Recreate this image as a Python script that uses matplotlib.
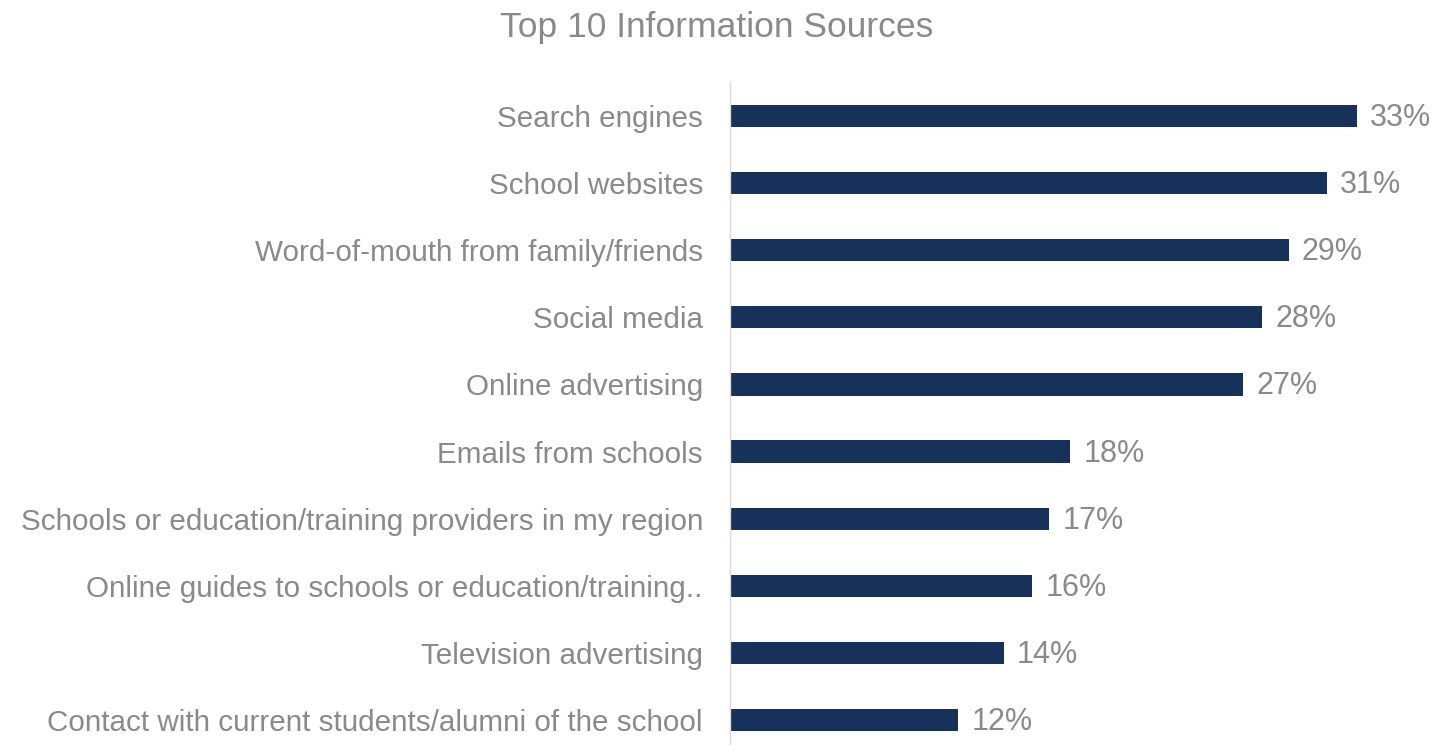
import matplotlib.pyplot as plt
import numpy as np

plt.rcParams['font.family'] = ['Liberation Sans', 'DejaVu Sans']

sources = ['Search engines', 'School websites', 'Word-of-mouth from family/friends',
           'Social media', 'Online advertising', 'Emails from schools',
           'Schools or education/training providers in my region',
           'Online guides to schools or education/training..',
           'Television advertising',
           'Contact with current students/alumni of the school']
shares = [33.0, 31.4, 29.4, 28.0, 27.0, 17.9, 16.8, 15.9, 14.4, 12.0]

navy = '#17325a'
grey = '#8a8a8a'

fig = plt.figure(figsize=(14.35, 7.45), dpi=100)
# axes placed in figure pixels: left edge at the bar baseline
W, H = 1435, 745
left, right, top, bottom = 730, 1400, 82.5, 753.5
ax = fig.add_axes([left / W, (H - bottom) / H, (right - left) / W, (bottom - top) / H])

pos = np.arange(len(sources))
bars = ax.barh(pos, shares, height=0.33, color=navy)
ax.set_ylim(len(sources) - 0.5, -0.5)
ax.set_xlim(0, (right - left) / 19.0)

for b, v in zip(bars, shares):
    ax.text(v + 0.7, b.get_y() + b.get_height() / 2 + 0.03, f'{v:.0f}%',
            va='center', ha='left', fontsize=22, color=grey)

ax.set_yticks(pos)
ax.set_yticklabels(sources, fontsize=21.3, color=grey)
ax.tick_params(axis='y', length=0, pad=19.5)
ax.set_xticks([])
for s in ['top', 'right', 'bottom']:
    ax.spines[s].set_visible(False)
ax.spines['left'].set_color('#d9d9d9')
ax.spines['left'].set_linewidth(1)

fig.text(717 / W, 1 - 28 / H, 'Top 10 Information Sources', ha='center', va='center',
         fontsize=25.5, color=grey)

fig.savefig('out.png', dpi=100)
plt.close()
